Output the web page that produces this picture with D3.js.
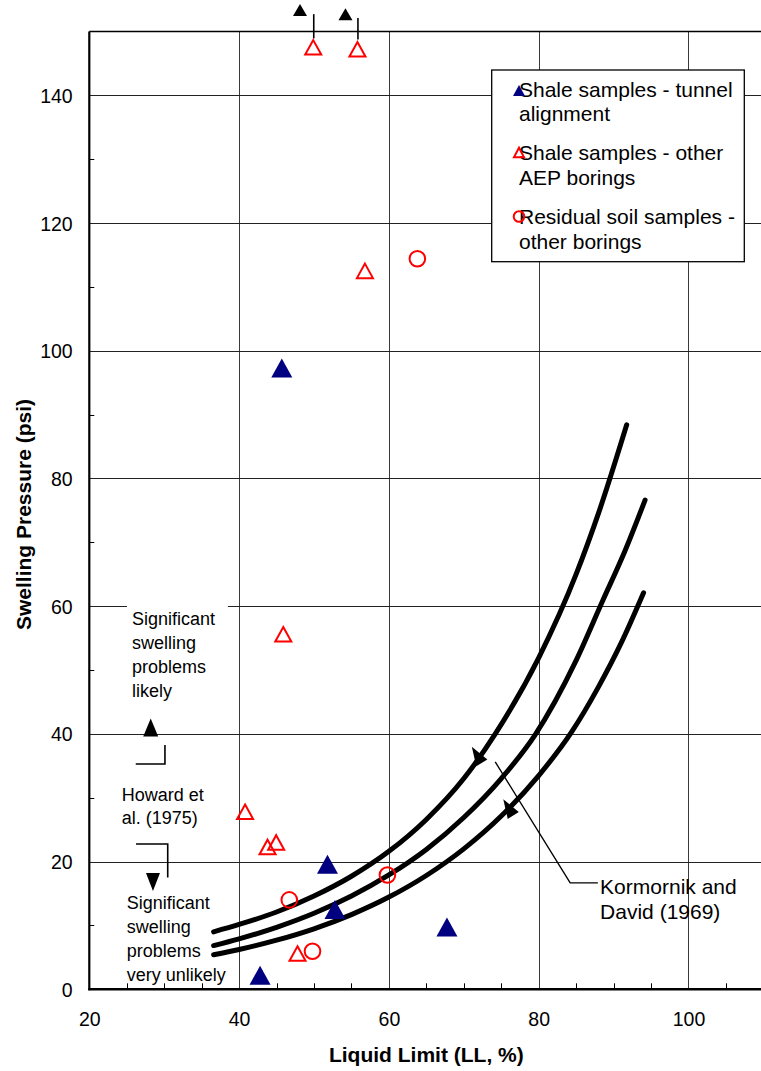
<!DOCTYPE html>
<html><head><meta charset="utf-8">
<script src="https://cdn.jsdelivr.net/npm/d3@7"></script>
<style>
body{margin:0;background:#fff}
svg{display:block}
text{font-family:"Liberation Sans",Arial,Helvetica,sans-serif;fill:#000}
</style>
</head><body>
<svg id="chart" width="761" height="1071"></svg>
<script>
// ---------- data ----------
const xTicks = [20, 40, 60, 80, 100];
const yTicks = [0, 20, 40, 60, 80, 100, 120, 140];
const xMinor = [25, 30, 35, 45, 50, 55, 65, 70, 75, 85, 90, 95, 105];
const yMinor = [10, 30, 50, 70, 90, 110, 130];
const xGrid = [40, 60, 80, 100];
const yGrid = [20, 40, 60, 80, 100, 120, 140];

// Shale samples - tunnel alignment
const tunnelLL  = [45.7, 42.8, 51.8, 52.8, 67.75];
const tunnelPsi = [97.3, 2.2, 19.6, 12.5, 9.75];
// Shale samples - other AEP borings
const shaleLL  = [49.9, 55.8, 56.8, 45.9, 40.8, 43.8, 44.95, 47.8];
const shalePsi = [147.5, 147.2, 112.5, 55.6, 27.8, 22.3, 23.0, 5.6];
// Residual soil samples - other borings
const soilLL  = [63.8, 59.8, 46.7, 49.8];
const soilPsi = [114.4, 17.9, 14.0, 5.95];

// Kormornik and David (1969) curves
const upperLL  = [36.6, 40, 45, 50, 55, 60, 65, 70, 74.2, 80, 85, 88, 91.75];
const upperPsi = [9.0, 10.15, 12.1, 14.6, 17.7, 21.6, 26.6, 33.0, 40.0, 51.9, 65.0, 74.6, 88.4];
const midLL  = [36.6, 40, 45, 50, 55, 60, 65, 70, 75, 79.5, 85, 88.6, 91.5, 94.2];
const midPsi = [6.85, 7.9, 9.7, 11.9, 14.6, 17.9, 21.9, 26.9, 33.0, 39.8, 51.5, 61.0, 68.6, 76.6];
const lowLL  = [36.6, 40, 45, 50, 55, 60, 65, 70, 75, 80, 84.4, 88, 91, 94.0];
const lowPsi = [5.4, 6.23, 7.69, 9.48, 11.7, 14.44, 17.82, 21.99, 27.13, 33.47, 40.3, 47.4, 54.2, 62.1];

const legendLabels = [["Shale samples - tunnel", "alignment"], ["Shale samples - other", "AEP borings"], ["Residual soil samples -", "other borings"]];

// ---------- setup ----------
const svg = d3.select("#chart");
const x = d3.scaleLinear().domain([20, 110]).range([89.3, 763.4]);
const y = d3.scaleLinear().domain([0, 150]).range([989.3, 31.4]);
const FONT = '"Liberation Sans",Arial,Helvetica,sans-serif';
const tri = (w, h) => `M0,${-h/2}L${w/2},${h/2}L${-w/2},${h/2}Z`;

// gridlines
svg.append("g").selectAll("line").data(xGrid).join("line")
  .attr("x1", d => Math.round(x(d)) + 0.5).attr("x2", d => Math.round(x(d)) + 0.5)
  .attr("y1", y(150)).attr("y2", y(0))
  .attr("stroke", "#3a3a3a").attr("stroke-width", 1);
svg.append("g").selectAll("line").data(yGrid).join("line")
  .attr("y1", d => Math.round(y(d)) + 0.5).attr("y2", d => Math.round(y(d)) + 0.5)
  .attr("x1", x(20)).attr("x2", x(110))
  .attr("stroke", "#222").attr("stroke-width", 1);

// white box behind upper left annotation
svg.append("rect")
  .attr("x", x(25.03)).attr("y", y(61.3))
  .attr("width", x(38.5) - x(25.03)).attr("height", y(44.4) - y(61.3))
  .attr("fill", "#fff");

// curves
const line = d3.line().x(d => x(d[0])).y(d => y(d[1])).curve(d3.curveMonotoneX);
[[upperLL, upperPsi], [midLL, midPsi], [lowLL, lowPsi]].forEach(([a, b]) => {
  svg.append("path").datum(a.map((v, i) => [v, b[i]]))
    .attr("d", line).attr("fill", "none").attr("stroke", "#000")
    .attr("stroke-width", 5).attr("stroke-linecap", "round");
});

// Kormornik leader
const leader = [[74.2, 35.6], [84.2, 16.66], [87.9, 16.66]];
svg.append("path").datum(leader)
  .attr("d", d3.line().x(d => x(d[0])).y(d => y(d[1])))
  .attr("fill", "none").attr("stroke", "#000").attr("stroke-width", 1.4);
const ang = Math.atan2(y(leader[0][1]) - y(leader[1][1]), x(leader[0][0]) - x(leader[1][0])) * 180 / Math.PI + 90;
const arrowTips = [[71.07, 37.99], [75.27, 29.75]];
svg.append("g").selectAll("path").data(arrowTips).join("path")
  .attr("d", "M0,0L6.5,19L-6.5,19Z")
  .attr("transform", d => `translate(${x(d[0])},${y(d[1])}) rotate(${ang})`)
  .attr("fill", "#000");
const kt = svg.append("text").attr("x", x(88.2)).attr("y", y(15.0))
  .attr("font-size", 21);
kt.append("tspan").attr("x", x(88.2)).text("Kormornik and");
kt.append("tspan").attr("x", x(88.2)).attr("dy", 25).text("David (1969)");

// off-scale indicators
const offLL = [49.9, 55.8];
const offLineBottom = [148.9, 148.75];
const offLineTop = [152.7, 152.1];
const offArrowLL = [48.13, 54.2];
const offArrowPsi = [153.35, 152.7];
svg.append("g").selectAll("line").data(offLL).join("line")
  .attr("x1", d => x(d) + 0.5).attr("x2", d => x(d) + 0.5)
  .attr("y1", (d, i) => y(offLineBottom[i])).attr("y2", (d, i) => y(offLineTop[i]))
  .attr("stroke", "#000").attr("stroke-width", 1.6);
svg.append("g").selectAll("path").data(offArrowLL).join("path")
  .attr("d", tri(14, 12))
  .attr("transform", (d, i) => `translate(${x(d)},${y(offArrowPsi[i])})`)
  .attr("fill", "#000");

// markers
svg.append("g").selectAll("path").data(tunnelLL).join("path")
  .attr("d", tri(21, 19))
  .attr("transform", (d, i) => `translate(${x(d)},${y(tunnelPsi[i])})`)
  .attr("fill", "#000080");
svg.append("g").selectAll("path").data(shaleLL).join("path")
  .attr("d", tri(16, 14.5))
  .attr("transform", (d, i) => `translate(${x(d)},${y(shalePsi[i])})`)
  .attr("fill", "none").attr("stroke", "#ff0000").attr("stroke-width", 2);
svg.append("g").selectAll("circle").data(soilLL).join("circle")
  .attr("cx", d => x(d)).attr("cy", (d, i) => y(soilPsi[i])).attr("r", 7.8)
  .attr("fill", "none").attr("stroke", "#ff0000").attr("stroke-width", 2);

// axes lines
svg.append("line").attr("x1", x(20)).attr("x2", x(110)).attr("y1", y(150)).attr("y2", y(150))
  .attr("stroke", "#000").attr("stroke-width", 1.5);
svg.append("line").attr("x1", x(20)).attr("x2", x(20)).attr("y1", y(150)).attr("y2", y(0) + 1)
  .attr("stroke", "#000").attr("stroke-width", 2.2);
svg.append("line").attr("x1", x(20) - 1).attr("x2", x(110)).attr("y1", y(0)).attr("y2", y(0))
  .attr("stroke", "#000").attr("stroke-width", 2.5);

// minor ticks
svg.append("g").selectAll("line").data(xMinor).join("line")
  .attr("x1", d => Math.round(x(d)) + 0.5).attr("x2", d => Math.round(x(d)) + 0.5)
  .attr("y1", y(0)).attr("y2", y(0) - 6).attr("stroke", "#000").attr("stroke-width", 1);
svg.append("g").selectAll("line").data(yMinor).join("line")
  .attr("y1", d => Math.round(y(d)) + 0.5).attr("y2", d => Math.round(y(d)) + 0.5)
  .attr("x1", x(20)).attr("x2", x(20) + 5).attr("stroke", "#000").attr("stroke-width", 1);

// tick labels via d3 axes
const xAxis = svg.append("g").attr("transform", `translate(0,${y(0)})`)
  .call(d3.axisBottom(x).tickValues(xTicks).tickSize(0).tickPadding(23).tickFormat(d3.format("d")));
xAxis.select(".domain").remove();
xAxis.selectAll("text").attr("font-size", 19.5).attr("font-family", FONT).attr("fill", "#000");
const yAxis = svg.append("g").attr("transform", `translate(${x(20)},0)`)
  .call(d3.axisLeft(y).tickValues(yTicks).tickSize(0).tickPadding(16.6).tickFormat(d3.format("d")));
yAxis.select(".domain").remove();
yAxis.selectAll("text").attr("font-size", 19.5).attr("font-family", FONT).attr("fill", "#000").attr("dy", "0.36em");

// axis titles
svg.append("text").attr("x", x(65)).attr("y", 1061.7).attr("text-anchor", "middle")
  .attr("font-size", 21).attr("font-weight", "bold").text("Liquid Limit (LL, %)");
svg.append("text").attr("transform", `translate(31,514.5) rotate(-90)`).attr("text-anchor", "middle")
  .attr("font-size", 21).attr("font-weight", "bold").text("Swelling Pressure (psi)");

// left annotations
function multiText(lx, ly, lines, size, gap) {
  const t = svg.append("text").attr("x", x(lx)).attr("y", y(ly)).attr("font-size", size);
  lines.forEach((s, i) => t.append("tspan").attr("x", x(lx)).attr("dy", i ? gap : 0).text(s));
}
multiText(25.71, 57.05, ["Significant", "swelling", "problems", "likely"], 18, 24);
multiText(24.33, 29.5, ["Howard et", "al. (1975)"], 18, 23.5);
multiText(25.0, 12.57, ["Significant", "swelling", "problems", "very unlikely"], 18, 24);

svg.append("path").attr("d", tri(15, 18))
  .attr("transform", `translate(${x(28.2)},${y(41.0)})`).attr("fill", "#000");
svg.append("path").attr("d", tri(14, 18))
  .attr("transform", `translate(${x(28.5)},${y(16.8)}) rotate(180)`).attr("fill", "#000");
const bracket = d3.line().x(d => x(d[0])).y(d => y(d[1]));
svg.append("path").datum([[30.1, 38.26], [30.1, 35.28], [26.2, 35.28]]).attr("d", bracket)
  .attr("fill", "none").attr("stroke", "#000").attr("stroke-width", 1.6);
svg.append("path").datum([[26.24, 22.75], [30.47, 22.75], [30.47, 17.5]]).attr("d", bracket)
  .attr("fill", "none").attr("stroke", "#000").attr("stroke-width", 1.6);

// legend
const lg = svg.append("g");
lg.append("rect").attr("x", 491.7).attr("y", 70).attr("width", 252.6).attr("height", 191.7)
  .attr("fill", "#fff").attr("stroke", "#000").attr("stroke-width", 1.3);
const legendBase = [96.7, 160, 224];
legendLabels.forEach((lines, i) => {
  const t = lg.append("text").attr("x", 519).attr("y", legendBase[i]).attr("font-size", 21);
  t.append("tspan").attr("x", 519).text(lines[0]);
  t.append("tspan").attr("x", 519).attr("dy", 24.5).text(lines[1]);
});
lg.append("path").attr("d", tri(12, 11)).attr("transform", "translate(519,90.5)").attr("fill", "#000080");
lg.append("path").attr("d", tri(10, 9.5)).attr("transform", "translate(519,152.5)")
  .attr("fill", "none").attr("stroke", "#ff0000").attr("stroke-width", 2);
lg.append("circle").attr("cx", 519).attr("cy", 216.5).attr("r", 5.3)
  .attr("fill", "none").attr("stroke", "#ff0000").attr("stroke-width", 2);
</script>
</body></html>
